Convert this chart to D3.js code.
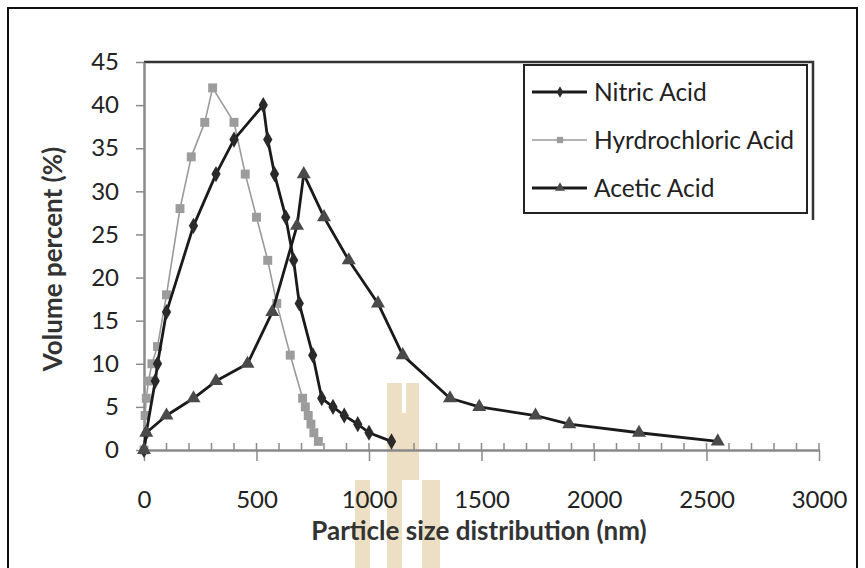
<!DOCTYPE html>
<html>
<head>
<meta charset="utf-8">
<script src="https://cdn.jsdelivr.net/npm/d3@7"></script>
<style>
  html, body { margin: 0; padding: 0; background: #fff; }
  svg { display: block; font-family: Lato, "Open Sans", sans-serif; }
</style>
</head>
<body>
<div id="chart"></div>
<script>
// particle size (nm) vs volume percent (%)
const nitricX = [0, 10, 50, 60, 100, 220, 320, 400, 530, 550, 580, 630, 665, 690, 750, 790, 840, 890, 950, 1000, 1100];
const nitricY = [0, 2, 8, 10, 16, 26, 32, 36, 40, 36, 32, 27, 22, 17, 11, 6, 5, 4, 3, 2, 1];

const hclX = [0, 5, 10, 20, 35, 60, 100, 160, 210, 270, 305, 400, 450, 500, 550, 590, 650, 705, 717, 730, 742, 755, 775];
const hclY = [0, 4, 6, 8, 10, 12, 18, 28, 34, 38, 42, 38, 32, 27, 22, 17, 11, 6, 5, 4, 3, 2, 1];

const aceticX = [0, 10, 100, 220, 320, 460, 570, 680, 710, 800, 910, 1040, 1150, 1360, 1490, 1740, 1890, 2200, 2550];
const aceticY = [0, 2, 4, 6, 8, 10, 16, 26, 32, 27, 22, 17, 11, 6, 5, 4, 3, 2, 1];

const seriesNames = ["Nitric Acid", "Hyrdrochloric Acid", "Acetic Acid"];
const xTicks = [0, 500, 1000, 1500, 2000, 2500, 3000];
const yTicks = [0, 5, 10, 15, 20, 25, 30, 35, 40, 45];

const W = 865, H = 568;
const plot = { left: 144, right: 819, top: 62, bottom: 450 };

const svg = d3.select("#chart").append("svg")
  .attr("width", W).attr("height", H);

// outer frame
svg.append("rect")
  .attr("x", 8).attr("y", 8)
  .attr("width", 849).attr("height", 580)
  .attr("fill", "#fff")
  .attr("stroke", "#111")
  .attr("stroke-width", 2);

const x = d3.scaleLinear().domain([0, 3000]).range([plot.left, plot.right]);
const y = d3.scaleLinear().domain([0, 45]).range([plot.bottom, plot.top]);

// faint watermark behind everything
const wm = svg.append("g").attr("fill", "#ecdfc4");
wm.append("rect").attr("x", 387).attr("y", 383).attr("width", 15).attr("height", 185);
wm.append("rect").attr("x", 406).attr("y", 383).attr("width", 13).attr("height", 30);
wm.append("rect").attr("x", 402).attr("y", 413).attr("width", 17).attr("height", 67);
wm.append("rect").attr("x", 355).attr("y", 480).attr("width", 15).attr("height", 88);
wm.append("rect").attr("x", 422).attr("y", 480).attr("width", 18).attr("height", 88);

// top border line of the plot, with short right edge by the legend
svg.append("path")
  .attr("d", `M${plot.left},${y(45)}H813V220`)
  .attr("fill", "none")
  .attr("stroke", "#333").attr("stroke-width", 2.5);

// y axis
const yAxis = svg.append("g")
  .attr("transform", `translate(${plot.left},0)`)
  .call(d3.axisLeft(y).tickValues(yTicks).tickSize(8).tickPadding(17).tickSizeOuter(0));
yAxis.select(".domain").attr("stroke", "#8a8a8a").attr("stroke-width", 2.5);
yAxis.selectAll(".tick line").attr("stroke", "#8a8a8a").attr("stroke-width", 1.5);
yAxis.selectAll(".tick text")
  .attr("font-size", 24).attr("fill", "#222")
  .attr("font-family", "Lato, sans-serif");

// x axis: major ticks below, minor ticks above
const xAxis = svg.append("g")
  .attr("transform", `translate(0,${plot.bottom})`)
  .call(d3.axisBottom(x).tickValues(xTicks).tickFormat(d3.format("d"))
    .tickSize(11).tickPadding(30).tickSizeOuter(0));
xAxis.select(".domain").attr("stroke", "#8a8a8a").attr("stroke-width", 2.5);
xAxis.selectAll(".tick line").attr("stroke", "#8a8a8a").attr("stroke-width", 1.5);
xAxis.selectAll(".tick text")
  .attr("font-size", 24).attr("fill", "#222")
  .attr("font-family", "Lato, sans-serif");

const minor = d3.range(0, 3001, 100);
svg.append("g").selectAll("line")
  .data(minor).enter().append("line")
  .attr("x1", d => x(d)).attr("x2", d => x(d))
  .attr("y1", plot.bottom).attr("y2", plot.bottom - 7)
  .attr("stroke", "#8a8a8a").attr("stroke-width", 1.5);

// axis titles
svg.append("text")
  .attr("x", 479).attr("y", 540)
  .attr("text-anchor", "middle")
  .attr("font-size", 26).attr("font-weight", "bold").attr("fill", "#333")
  .text("Particle size distribution (nm)");

svg.append("text")
  .attr("transform", "translate(62,259) rotate(-90)")
  .attr("text-anchor", "middle")
  .attr("font-size", 26).attr("font-weight", "bold").attr("fill", "#333")
  .text("Volume percent (%)");

const line = d3.line().x(d => x(d[0])).y(d => y(d[1]));

const series = [
  { name: seriesNames[0], pts: d3.zip(nitricX, nitricY), stroke: "#1a1a1a", width: 2.8, marker: d3.symbolDiamond, size: 75, fill: "#2a2a2a" },
  { name: seriesNames[1], pts: d3.zip(hclX, hclY), stroke: "#9a9a9a", width: 1.6, marker: d3.symbolSquare, size: 80, fill: "#9c9c9c" },
  { name: seriesNames[2], pts: d3.zip(aceticX, aceticY), stroke: "#1a1a1a", width: 2.8, marker: d3.symbolTriangle, size: 85, fill: "#4a4a4a" }
];

// draw gray series first so dark lines sit on top
[series[1], series[0], series[2]].forEach(s => {
  svg.append("path")
    .datum(s.pts)
    .attr("d", line)
    .attr("fill", "none")
    .attr("stroke", s.stroke)
    .attr("stroke-width", s.width)
    .attr("stroke-linejoin", "round");
  svg.append("g").selectAll("path")
    .data(s.pts).enter().append("path")
    .attr("transform", d => `translate(${x(d[0])},${y(d[1])})`)
    .attr("d", d3.symbol().type(s.marker).size(s.size))
    .attr("fill", s.fill);
});

// legend
const lg = svg.append("g");
lg.append("rect")
  .attr("x", 524).attr("y", 65)
  .attr("width", 283).attr("height", 148)
  .attr("fill", "#fff")
  .attr("stroke", "#222").attr("stroke-width", 2);

const legendY = [92, 140, 188];
series.forEach((s, i) => {
  const cy = legendY[i];
  lg.append("line")
    .attr("x1", 532).attr("x2", 587)
    .attr("y1", cy).attr("y2", cy)
    .attr("stroke", s.stroke).attr("stroke-width", s.width);
  lg.append("path")
    .attr("transform", `translate(560,${cy})`)
    .attr("d", d3.symbol().type(s.marker).size(s.size * 0.5))
    .attr("fill", s.fill);
  lg.append("text")
    .attr("x", 594).attr("y", cy)
    .attr("dy", "0.36em")
    .attr("font-size", 24.5).attr("fill", "#222")
    .text(s.name);
});
</script>
</body>
</html>
